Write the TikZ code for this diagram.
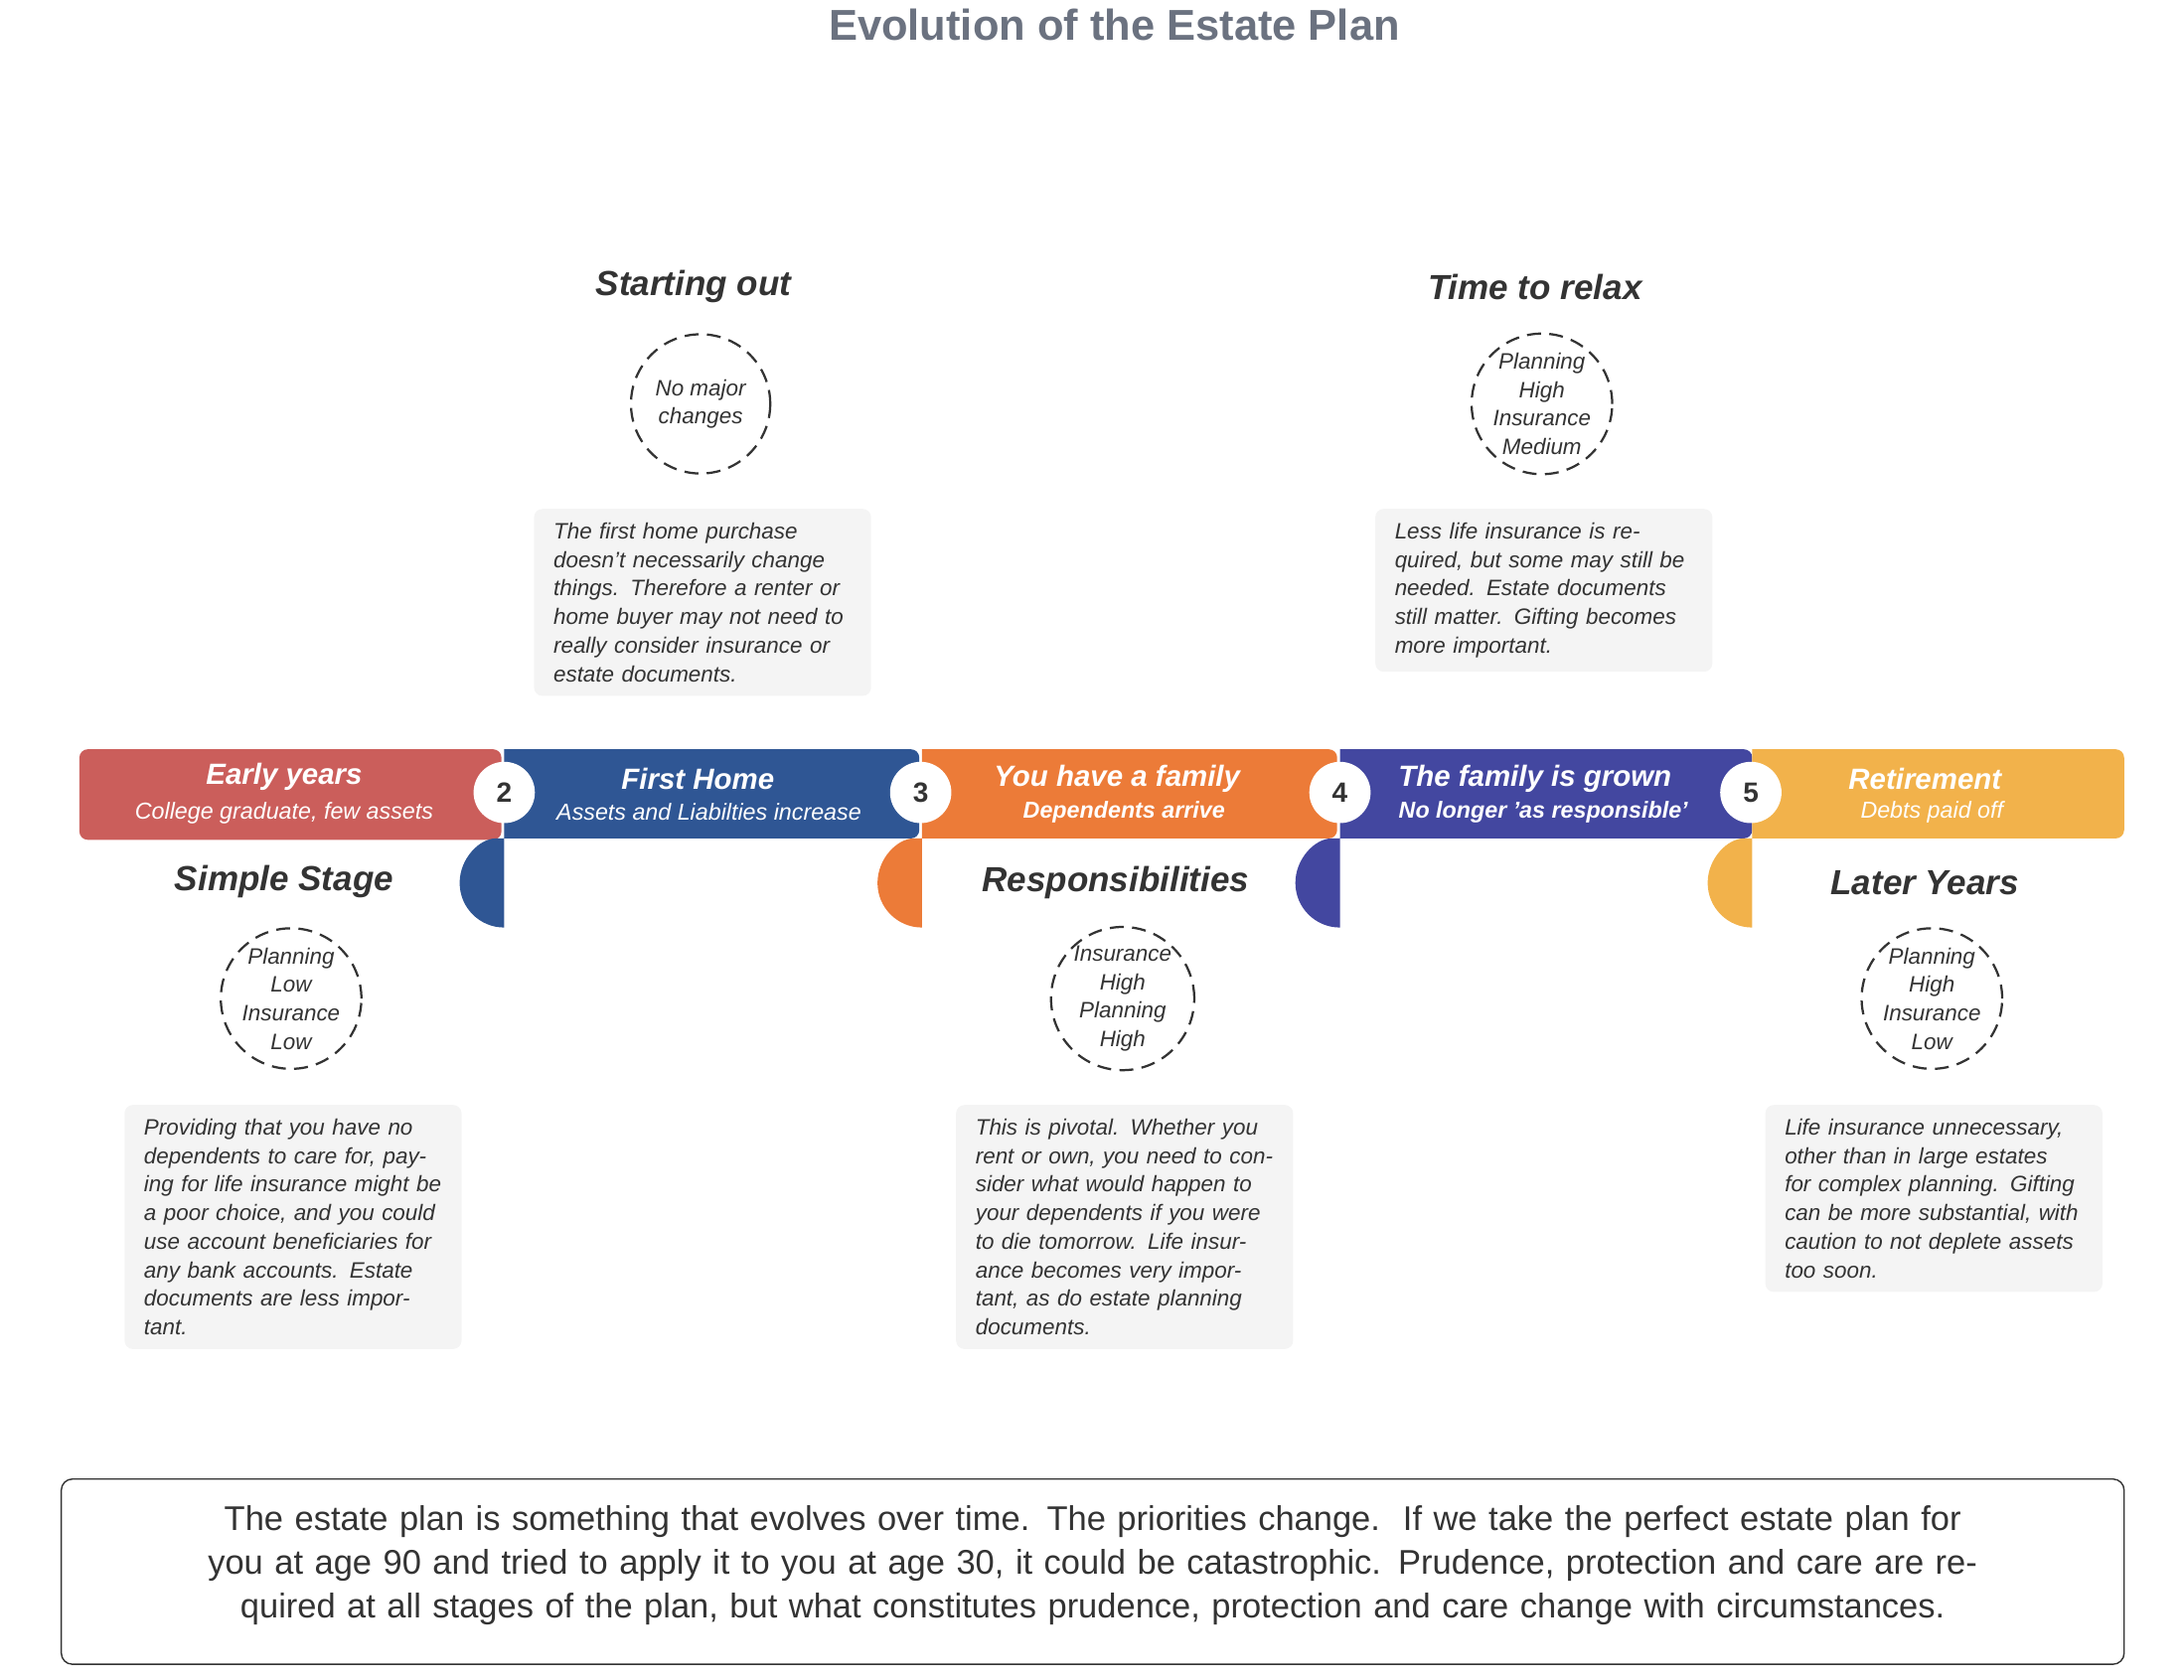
\documentclass[tikz,border=0pt]{standalone}
\usepackage{fontspec}
\setmainfont{Liberation Sans}
\begin{document}
\definecolor{cA}{HTML}{CB5E5B}
\definecolor{cB}{HTML}{2F5694}
\definecolor{cC}{HTML}{EC7B38}
\definecolor{cD}{HTML}{4347A0}
\definecolor{cE}{HTML}{F2B24B}
\definecolor{tx}{HTML}{333333}
\definecolor{ttl}{HTML}{6B7280}
\definecolor{boxg}{HTML}{F4F4F4}
\begin{tikzpicture}[x=0.5pt,y=-0.5pt,
  head/.style={font=\fontsize{12.5}{14}\selectfont\bfseries\itshape, text=tx},
  ring/.style={circle, draw=tx, thick, dash pattern=on 5pt off 3pt, minimum size=50pt, inner sep=0pt, align=center, text=tx, font=\fontsize{8}{10.2}\selectfont\itshape},
  note/.style={fill=boxg, rounded corners=3pt, text width=107pt, inner xsep=7pt, inner ysep=5pt, align=left, text=tx, font=\fontsize{8}{10.25}\selectfont\itshape, anchor=north west},
  stitle/.style={text=white, font=\fontsize{10.5}{12}\selectfont\bfseries\itshape},
  ssub/.style={text=white, font=\fontsize{8.3}{10}\selectfont\itshape},
  num/.style={circle, fill=white, minimum size=22pt, inner sep=0pt, text=tx, font=\fontsize{10}{12}\selectfont\bfseries}]
\useasboundingbox (0,0) rectangle (1568,1206);
\node[text=ttl, font=\fontsize{15.5}{18}\selectfont\bfseries] (title) at (800,18) {Evolution of the Estate Plan};
% band
\fill[cA, rounded corners=3pt] (57,538) rectangle (360,603);
\foreach \c/\a/\b in {cB/330/660, cC/630/960, cD/930/1258, cE/1226/1525}{
  \fill[\c, rounded corners=3pt] (\a+32,538) -- (\b,538) -- (\b,602) -- (\a+32,602) [sharp corners] arc (90:270:32 and -32) -- cycle;
}
\node[num] (n2) at (362,569) {2};
\node[num] (n3) at (661,569) {3};
\node[num] (n4) at (962,569) {4};
\node[num] (n5) at (1257,569) {5};
\node[stitle] (t1) at (204,558) {Early years};
\node[ssub] (s1) at (204,584) {College graduate, few assets};
\node[stitle] (t2) at (501,559) {First Home};
\node[ssub] (s2) at (509,583) {Assets and Liabilties increase};
\node[stitle] (t3) at (802,559) {You have a family};
\node[ssub, font=\fontsize{8.3}{10}\selectfont\bfseries\itshape] (s3) at (807,583) {Dependents arrive};
\node[stitle] (t4) at (1102,559) {The family is grown};
\node[ssub, font=\fontsize{8.3}{10}\selectfont\bfseries\itshape] (s4) at (1108,583) {No longer 'as responsible'};
\node[stitle] (t5) at (1382,559) {Retirement};
\node[ssub] (s5) at (1387,583) {Debts paid off};
% upper
\node[head] (h2) at (498,206) {Starting out};
\node[ring] (r2) at (503,290) {No major\\changes};
\node[note] (b2) at (383,365) {The first home purchase doesn't necessarily change things. Therefore a renter or home buyer may not need to really consider insurance or estate documents.};
\node[head] (h4) at (1102,206) {Time to relax};
\node[ring] (r4) at (1107,290) {Planning\\High\\Insurance\\Medium};
\node[note] (b4) at (987,365) {Less life insurance is required, but some may still be needed. Estate documents still matter. Gifting becomes more important.};
% lower
\node[head] (h1) at (204,633) {Simple Stage};
\node[ring] (r1) at (209,717) {Planning\\Low\\Insurance\\Low};
\node[note] (b1) at (89,793) {Providing that you have no dependents to care for, paying for life insurance might be a poor choice, and you could use account beneficiaries for any bank accounts. Estate documents are less important.};
\node[head] (h3) at (801,634) {Responsibilities};
\node[ring] (r3) at (806,717) {Insurance\\High\\Planning\\High};
\node[note] (b3) at (686,793) {This is pivotal. Whether you rent or own, you need to consider what would happen to your dependents if you were to die tomorrow. Life insurance becomes very important, as do estate planning documents.};
\node[head] (h5) at (1382,634) {Later Years};
\node[ring] (r5) at (1387,717) {Planning\\High\\Insurance\\Low};
\node[note] (b5) at (1267,793) {Life insurance unnecessary, other than in large estates for complex planning. Gifting can be more substantial, with caution to not deplete assets too soon.};
% bottom
\draw[draw=tx, rounded corners=4pt, line width=0.5pt] (44,1062) rectangle (1525,1195);
\node[text=tx, text width=730pt, align=center, font=\fontsize{12.3}{15.6}\selectfont] (foot) at (784.5,1124) {The estate plan is something that evolves over time. The priorities change.\ \ If we take the perfect estate plan for you at age 90 and tried to apply it to you at age 30, it could be catastrophic. Prudence, protection and care are required at all stages of the plan, but what constitutes prudence, protection and care change with circumstances.};
\end{tikzpicture}
\end{document}
